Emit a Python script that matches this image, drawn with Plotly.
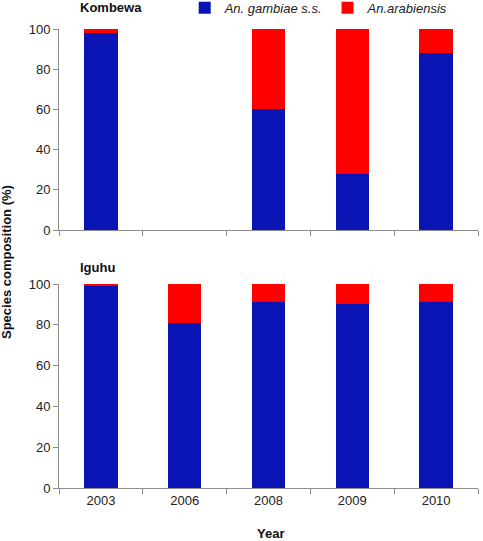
import plotly.graph_objects as go
from plotly.subplots import make_subplots

years = ["2003", "2006", "2008", "2009", "2010"]
kombewa_gambiae = [98, None, 60, 28, 88]
kombewa_arabiensis = [2, None, 40, 72, 12]
iguhu_gambiae = [99, 81, 91, 90, 91]
iguhu_arabiensis = [1, 19, 9, 10, 9]

BLUE = "#0A14B4"
RED = "#FF0000"
FONT = "Liberation Sans, Arial, sans-serif"

fig = make_subplots(rows=2, cols=1, shared_xaxes=False, vertical_spacing=0.118)

fig.add_trace(go.Bar(x=years, y=kombewa_gambiae, marker_color=BLUE, marker_line_width=0,
                     name="An. gambiae s.s.", legendgroup="g"), row=1, col=1)
fig.add_trace(go.Bar(x=years, y=kombewa_arabiensis, marker_color=RED, marker_line_width=0,
                     name="An.arabiensis", legendgroup="a"), row=1, col=1)
fig.add_trace(go.Bar(x=years, y=iguhu_gambiae, marker_color=BLUE, marker_line_width=0,
                     name="An. gambiae s.s.", legendgroup="g", showlegend=False), row=2, col=1)
fig.add_trace(go.Bar(x=years, y=iguhu_arabiensis, marker_color=RED, marker_line_width=0,
                     name="An.arabiensis", legendgroup="a", showlegend=False), row=2, col=1)

H = 541
t, b = 29, 53
ph = H - t - b
top_dom = [(488 - 230) / ph, 1.0]
bot_dom = [0.0, (488 - 284) / ph]

axis_common = dict(showline=True, linecolor="#8C8C8C", linewidth=1, ticks="outside",
                   tickcolor="#8C8C8C", ticklen=5, showgrid=False, zeroline=False,
                   automargin=False,
                   tickfont=dict(family=FONT, size=13, color="#222222"))

fig.update_layout(
    width=483, height=541,
    margin=dict(l=59, r=5, t=t, b=b, autoexpand=False),
    barmode="stack", bargap=0.6,
    plot_bgcolor="white", paper_bgcolor="white",
    font=dict(family=FONT, size=13, color="#222222"),
    legend=dict(orientation="h", x=0.30, y=1.046, xanchor="left", yanchor="middle",
                font=dict(family=FONT, size=13, style="italic", color="#222222"),
                itemwidth=30, tracegroupgap=0, bgcolor="rgba(0,0,0,0)"),
    yaxis=dict(domain=top_dom, range=[0, 100], dtick=20, **axis_common),
    yaxis2=dict(domain=bot_dom, range=[0, 100], dtick=20, **axis_common),
    xaxis=dict(tickson="boundaries", showticklabels=False, **axis_common),
    xaxis2=dict(tickson="boundaries", **axis_common),
)

fig.add_annotation(text="<b>Kombewa</b>", xref="paper", yref="paper", x=(78 - 59) / 419,
                   y=1 + (29 - 8) / ph, xanchor="left", yanchor="middle", showarrow=False,
                   font=dict(family=FONT, size=13, color="#111111"))
fig.add_annotation(text="<b>Iguhu</b>", xref="paper", yref="paper", x=(78 - 59) / 419,
                   y=bot_dom[1] + (284 - 267) / ph, xanchor="left", yanchor="middle", showarrow=False,
                   font=dict(family=FONT, size=13, color="#111111"))
fig.add_annotation(text="<b>Year</b>", xref="paper", yref="paper", x=(270 - 59) / 419,
                   y=-(533 - 488) / ph, xanchor="center", yanchor="middle", showarrow=False,
                   font=dict(family=FONT, size=13, color="#111111"))
fig.add_annotation(text="<b>Species composition (%)</b>", xref="paper", yref="paper",
                   x=(6 - 59) / 419, y=1 - (262 - 29) / ph, xanchor="center", yanchor="middle",
                   textangle=-90, showarrow=False,
                   font=dict(family=FONT, size=13, color="#111111"))

fig.write_html("out.html", config={"displayModeBar": False},
               post_script="document.body.style.margin='0';document.body.style.overflow='hidden';")
